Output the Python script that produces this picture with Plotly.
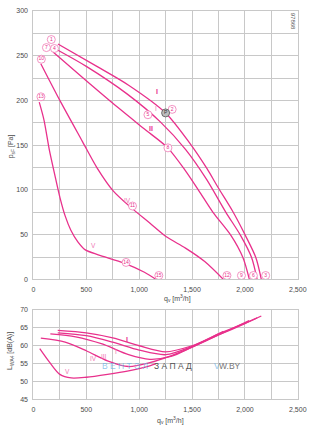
import plotly.graph_objects as go

W, H = 330, 430
PINK = "#e8318c"
GRID = "#c8c8c8"
TXT = "#4a4a4a"
FONT = "Liberation Sans"

# ---------------- data: pressure curves (top chart) ----------------
q_I = [232, 600, 900, 1250, 1480, 1640, 1745, 1880, 2003, 2103, 2155]
p_I = [263, 238, 217, 186, 152, 124, 103, 77, 49.5, 24.5, 0]
q_I2 = [232, 500, 888, 1200, 1440, 1636, 1820, 1957, 2063, 2115]
p_I2 = [256, 238, 207, 176, 145, 112, 75, 49.5, 24.5, 0]
q_II = [186, 500, 800, 1050, 1270, 1440, 1565, 1698, 1866, 1981, 2042]
p_II = [254, 222, 192, 168, 147, 121, 99, 75, 49.5, 24.5, 0]
q_IV = [70, 250, 464, 600, 754, 921, 1100, 1257, 1438, 1620, 1797]
p_IV = [241, 200, 154, 125, 99, 80.5, 63, 47.6, 35, 20, 0]
q_V = [55, 100, 150, 200, 251, 300, 354, 420, 491, 613, 858, 1050, 1160]
p_V = [198, 178, 145, 118, 91.5, 71, 55, 42, 33, 27.5, 18.3, 8, 0]

# ---------------- data: sound power curves (bottom chart) ----------------
qs_I = [230, 500, 750, 1000, 1250, 1500, 1750, 2000, 2155]
L_I = [64.3, 63.6, 62.2, 60.0, 58.3, 60.0, 63.0, 66.2, 68.3]
qs_I2 = [230, 500, 750, 1000, 1250, 1500, 1750, 2000, 2115]
L_I2 = [63.6, 62.8, 61.0, 58.8, 57.5, 59.8, 63.3, 66.3, 67.8]
qs_III = [160, 400, 650, 900, 1100, 1300, 1500, 1750, 2040]
L_III = [63.3, 62.5, 60.5, 57.5, 56.2, 57.0, 59.6, 63.0, 67.0]
qs_IV = [70, 300, 500, 700, 900, 1100, 1300, 1500, 1797]
L_IV = [62.1, 61.0, 58.6, 55.8, 54.2, 55.3, 57.2, 59.6, 64.0]
qs_V = [60, 150, 250, 358, 500, 700, 900, 1100, 1160]
L_V = [59.2, 55.5, 52.0, 51.0, 51.2, 52.0, 53.0, 54.4, 55.0]

# ---------------- ticks ----------------
x_ticks = [0, 500, 1000, 1500, 2000, 2500]
top_yticks = [0, 50, 100, 150, 200, 250, 300]
bot_yticks = [45, 50, 55, 60, 65, 70]

# operating point numbers (circled) on top chart
pt_num = ["1", "4", "7", "10", "13", "2", "5", "8", "11", "14", "15", "12", "9", "6", "3"]
pt_q = [169, 199, 123, 75, 71, 1312, 1083, 1272, 937, 876, 1186, 1830, 1967, 2080, 2196]
pt_p = [268, 258, 259, 246, 204, 190, 184, 147, 82, 19, 4.4, 4.4, 4.4, 4.4, 4.4]
ref_q = [1250]
ref_p = [186]

# curve labels
top_lbl = ["I", "I", "II", "IV", "V"]
top_lbl_q = [1172, 1156, 1111, 885, 571]
top_lbl_p = [209.5, 191, 168.5, 88.7, 37.4]
top_lbl_w = [True, False, True, False, False]
bot_lbl = ["I", "I", "III", "IV", "V"]
bot_lbl_q = [882, 782, 669, 571, 327]
bot_lbl_L = [61.7, 58.4, 57.0, 56.5, 52.9]
bot_lbl_w = [True, False, False, False, False]

fig = go.Figure()

line = dict(color=PINK, width=1.3, shape="spline", smoothing=0.8)
for q, p in [(q_I, p_I), (q_I2, p_I2), (q_II, p_II), (q_IV, p_IV), (q_V, p_V)]:
    fig.add_trace(go.Scatter(x=q, y=p, mode="lines", line=line, xaxis="x", yaxis="y",
                             hoverinfo="skip", showlegend=False))
for q, L in [(qs_I, L_I), (qs_I2, L_I2), (qs_III, L_III), (qs_IV, L_IV), (qs_V, L_V)]:
    fig.add_trace(go.Scatter(x=q, y=L, mode="lines", line=line, xaxis="x2", yaxis="y2",
                             hoverinfo="skip", showlegend=False))

fig.add_trace(go.Scatter(
    x=pt_q, y=pt_p, mode="markers+text", text=pt_num, textposition="middle center",
    textfont=dict(size=5, color=PINK, family=FONT), cliponaxis=False,
    marker=dict(symbol="circle", size=8, color="white", line=dict(color="#f07ab5", width=0.8)),
    xaxis="x", yaxis="y", showlegend=False, hoverinfo="skip"))
fig.add_trace(go.Scatter(
    x=ref_q, y=ref_p, mode="markers+text", text=["P"], textposition="middle center",
    textfont=dict(size=5, color="#333", family=FONT), cliponaxis=False,
    marker=dict(symbol="circle", size=8, color="#bdbdbd", line=dict(color="#555", width=0.8)),
    xaxis="x", yaxis="y", showlegend=False, hoverinfo="skip"))

ann = []
for t, q, p, b in zip(top_lbl, top_lbl_q, top_lbl_p, top_lbl_w):
    ann.append(dict(x=q, y=p, xref="x", yref="y", text=f"<b>{t}</b>" if b else t, showarrow=False,
                    font=dict(size=7 if b else 6.5, color=PINK if b else "#f07ab5", family=FONT)))
for t, q, L, b in zip(bot_lbl, bot_lbl_q, bot_lbl_L, bot_lbl_w):
    ann.append(dict(x=q, y=L, xref="x2", yref="y2", text=f"<b>{t}</b>" if b else t, showarrow=False,
                    font=dict(size=7 if b else 6.5, color=PINK if b else "#f07ab5", family=FONT)))


def px(x, y, text, size=7, color=TXT, angle=0, xanchor="center"):
    return dict(x=x / W, y=1 - y / H, xref="paper", yref="paper", text=text, showarrow=False,
                textangle=angle, xanchor=xanchor, yanchor="middle",
                font=dict(size=size, color=color, family=FONT))


ann += [
    px(9, 145, "p<sub>sF</sub> [Pa]", angle=-90),
    px(9, 353, "L<sub>WA4</sub> [dB(A)]", angle=-90),
    px(166, 299, "q<sub>v</sub> [m<sup>3</sup>/h]", xanchor="left"),
    px(158, 423, "q<sub>v</sub> [m<sup>3</sup>/h]", xanchor="left"),
    px(301, 18, "97868", size=6, color="#555", angle=90),
    px(101, 368, "В Е Н Т Э Л", size=8.5, color="rgba(110,180,230,0.75)", xanchor="left"),
    px(155, 368, "З А П А Д", size=8.5, color="#555", xanchor="left"),
    px(217, 368, "V", size=8.5, color="rgba(110,180,230,0.8)", xanchor="left"),
    px(222, 368, "W.BY", size=8.5, color="#777", xanchor="left"),
]

x0, x1 = 32.5 / W, 306 / W
axis_common = dict(showgrid=True, gridcolor=GRID, gridwidth=1.4, zeroline=False,
                   showline=True, linecolor=GRID, linewidth=1, mirror=True,
                   tickfont=dict(size=7, color=TXT, family=FONT),
                   ticks="outside", tickcolor="rgba(0,0,0,0)", ticklen=3)
xfmt = dict(tickmode="array", tickvals=x_ticks, separatethousands=True, tickformat=",d")

fig.update_layout(
    width=W, height=H, margin=dict(l=0, r=0, t=0, b=0),
    paper_bgcolor="white", plot_bgcolor="white",
    font=dict(family=FONT), separators=".,",
    xaxis=dict(domain=[x0, x1], range=[0, 2500], anchor="y",
               minor=dict(dtick=250, tick0=0, showgrid=True, gridcolor=GRID, gridwidth=1),
               **xfmt, **axis_common),
    yaxis=dict(domain=[1 - 280 / H, 1 - 7 / H], range=[0, 300], tickvals=top_yticks,
               anchor="x", minor=dict(dtick=25, tick0=0, showgrid=True, gridcolor=GRID, gridwidth=1),
               **axis_common),
    xaxis2=dict(domain=[x0, x1], range=[0, 2500], anchor="y2",
                minor=dict(dtick=250, tick0=0, showgrid=True, gridcolor=GRID, gridwidth=1),
                **xfmt, **axis_common),
    yaxis2=dict(domain=[1 - 402 / H, 1 - 311 / H], range=[45, 70], tickvals=bot_yticks,
                anchor="x2", **axis_common),
    annotations=ann,
)

fig.write_html("out.html")
